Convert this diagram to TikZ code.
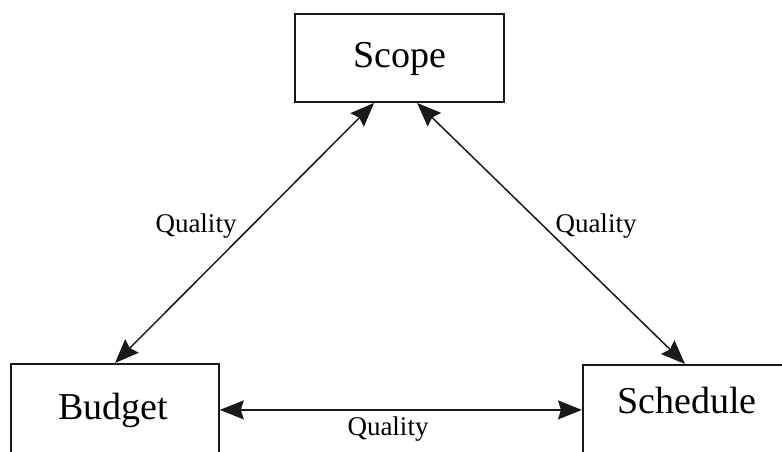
\documentclass[tikz,border=0pt]{standalone}
\usepackage{fontspec}
\setmainfont{Liberation Serif}
\usetikzlibrary{arrows.meta}
\begin{document}
\begin{tikzpicture}[x=1pt,y=1pt,
  box/.style={draw=black!90, line width=1.8pt, rectangle, inner sep=0pt},
  big/.style={font=\fontsize{38}{40}\selectfont, anchor=base, inner sep=0pt},
  small/.style={font=\fontsize{27}{29}\selectfont, anchor=base, inner sep=0pt},
  arr/.style={line width=1.5pt, draw=black!90, {Stealth[length=24pt,width=19pt,inset=3pt]}-{Stealth[length=24pt,width=19pt,inset=3pt]}}]
\useasboundingbox (0,0) rectangle (782,451);
\clip (0,0) rectangle (782,451);
\node[box, minimum width=209pt, minimum height=88pt] (scope) at (399.5,393) {};
\node[box, minimum width=208pt, minimum height=92pt, anchor=north west] (budget) at (10,88) {};
\node[box, minimum width=210pt, minimum height=90pt, anchor=north west] (schedule) at (582,87) {};
\node[big] (tscope) at (399.5,384) {Scope};
\node[big] (tbudget) at (113,32) {Budget};
\node[big] (tschedule) at (687,38) {Schedule};
\draw[arr] ([xshift=80pt]scope.south west) -- ([xshift=105pt]budget.north west);
\draw[arr] ([xshift=123pt]scope.south west) -- ([xshift=103pt]schedule.north west);
\draw[arr] (budget.east) -- (schedule.west);
\node[small] (q1) at (196,219) {Quality};
\node[small] (q2) at (596,219) {Quality};
\node[small] (q3) at (388,16) {Quality};
\end{tikzpicture}
\end{document}
